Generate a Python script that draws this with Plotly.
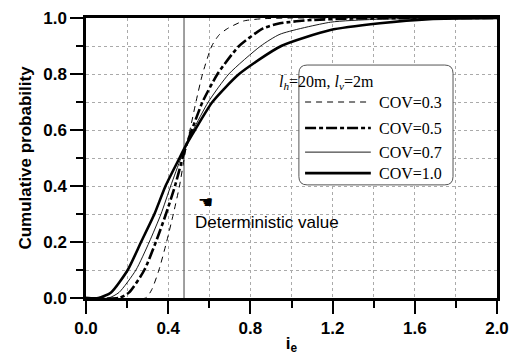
import plotly.graph_objects as go

# ---- data ----
cov03_x = [0.0, 0.29, 0.32, 0.355, 0.392, 0.425, 0.455, 0.478, 0.49, 0.506, 0.535, 0.567, 0.612, 0.648, 0.69, 0.765, 0.85, 1.0, 1.5, 2.0]
cov03_y = [0.0, 0.0, 0.03, 0.1, 0.2, 0.3, 0.4, 0.5, 0.55, 0.6, 0.7, 0.8, 0.9, 0.94, 0.963, 0.989, 0.997, 1.0, 1.0, 1.0]

cov05_x = [0.0, 0.16, 0.21, 0.284, 0.34, 0.389, 0.433, 0.47, 0.49, 0.515, 0.567, 0.64, 0.745, 0.862, 0.944, 1.1, 1.3, 1.6, 2.0]
cov05_y = [0.0, 0.0, 0.02, 0.1, 0.2, 0.3, 0.4, 0.5, 0.55, 0.6, 0.7, 0.8, 0.9, 0.963, 0.981, 0.993, 0.998, 1.0, 1.0]

cov07_x = [0.0, 0.11, 0.161, 0.243, 0.308, 0.365, 0.412, 0.462, 0.49, 0.522, 0.595, 0.695, 0.85, 0.944, 1.19, 1.4, 1.7, 2.0]
cov07_y = [0.0, 0.0, 0.02, 0.1, 0.2, 0.3, 0.4, 0.5, 0.55, 0.6, 0.7, 0.8, 0.9, 0.942, 0.985, 0.995, 0.999, 1.0]

cov10_x = [0.0, 0.06, 0.122, 0.203, 0.268, 0.333, 0.387, 0.455, 0.49, 0.53, 0.615, 0.745, 0.95, 1.19, 1.43, 1.67, 2.0]
cov10_y = [0.0, 0.0, 0.02, 0.1, 0.2, 0.3, 0.4, 0.5, 0.55, 0.6, 0.7, 0.8, 0.9, 0.957, 0.981, 0.996, 1.0]

deterministic_ie = 0.477
series_names = ["COV=0.3", "COV=0.5", "COV=0.7", "COV=1.0"]
x_ticks = [0.0, 0.4, 0.8, 1.2, 1.6, 2.0]
y_ticks = [0.0, 0.2, 0.4, 0.6, 0.8, 1.0]

# ---- styles ----
styles = [
    dict(color="black", width=1.0, dash="6px,5px"),
    dict(color="black", width=2.6, dash="11px,3px,4px,3px"),
    dict(color="black", width=0.9, dash="solid"),
    dict(color="black", width=2.6, dash="solid"),
]

fig = go.Figure()

# deterministic value line
fig.add_trace(go.Scatter(x=[deterministic_ie, deterministic_ie], y=[0.0, 1.0], mode="lines",
                         line=dict(color="#777777", width=1.4), showlegend=False, hoverinfo="skip"))

for xs, ys, nm, st in zip([cov03_x, cov05_x, cov07_x, cov10_x],
                          [cov03_y, cov05_y, cov07_y, cov10_y], series_names, styles):
    fig.add_trace(go.Scatter(x=xs, y=ys, mode="lines", name=nm, line=dict(shape="spline", smoothing=0.6, **st),
                             showlegend=False))

axis_font = dict(family="Liberation Sans, Arial", size=17, color="black")

fig.update_xaxes(range=[0, 2.0], tickvals=x_ticks, ticktext=[f"<b>{v:.1f}</b>" for v in x_ticks],
                 ticks="outside", ticklen=13, tickwidth=2, tickcolor="black",
                 showline=True, linewidth=2.5, linecolor="black", mirror=True,
                 showgrid=True, gridcolor="#aaaaaa", griddash="dot", gridwidth=1,
                 minor=dict(dtick=0.2, tick0=0, ticks="outside", ticklen=7, tickwidth=2, tickcolor="black",
                            showgrid=True, gridcolor="#aaaaaa", griddash="dot", gridwidth=1),
                 zeroline=False, tickfont=axis_font, automargin=False,
                 title=dict(text="<b>i<sub>e</sub></b>", font=dict(family="Liberation Sans, Arial", size=17, color="black"),
                            standoff=0))
fig.update_yaxes(range=[0, 1.0], tickvals=y_ticks, ticktext=[f"<b>{v:.1f}</b>" for v in y_ticks],
                 ticks="outside", ticklen=13, tickwidth=2, tickcolor="black",
                 showline=True, linewidth=2.5, linecolor="black", mirror=True,
                 showgrid=True, gridcolor="#aaaaaa", griddash="dot", gridwidth=1,
                 minor=dict(dtick=0.1, tick0=0, ticks="outside", ticklen=7, tickwidth=2, tickcolor="black",
                            showgrid=True, gridcolor="#aaaaaa", griddash="dot", gridwidth=1),
                 zeroline=False, tickfont=axis_font, automargin=False,
                 title=dict(text="<b>Cumulative probability</b>", font=dict(family="Liberation Sans, Arial", size=17, color="black"),
                            standoff=8))

# ---- manual legend (rounded box) ----
x0, x1, y0, y1, r = 0.518, 0.893, 0.404, 0.832, 0.02
ry = r * 411 / 280
path = (f"M {x0+r},{y1} L {x1-r},{y1} Q {x1},{y1} {x1},{y1-ry} L {x1},{y0+ry} Q {x1},{y0} {x1-r},{y0} "
        f"L {x0+r},{y0} Q {x0},{y0} {x0},{y0+ry} L {x0},{y1-ry} Q {x0},{y1} {x0+r},{y1} Z")
shapes = [dict(type="path", path=path, xref="paper", yref="paper", line=dict(color="#555555", width=1),
               fillcolor="white", layer="above")]
row_y = [0.700, 0.607, 0.521, 0.446]
annotations = [dict(x=0.706, y=0.771, xref="paper", yref="paper", showarrow=False, yanchor="middle",
                    text="<i>l</i><sub><i>h</i></sub>=20m, <i>l</i><sub><i>v</i></sub>=2m",
                    font=dict(family="Liberation Serif, Times New Roman", size=16, color="black"))]
for ry_, nm, st in zip(row_y, series_names, styles):
    shapes.append(dict(type="line", xref="paper", yref="paper", x0=0.533, x1=0.693, y0=ry_, y1=ry_,
                       line=dict(color="black", width=st["width"], dash=st["dash"]), layer="above"))
    annotations.append(dict(x=0.708, y=ry_, xref="paper", yref="paper", xanchor="left", yanchor="middle",
                            showarrow=False, text=nm,
                            font=dict(family="Liberation Serif, Times New Roman", size=16, color="black")))

annotations.append(dict(x=0.268, y=0.343, xref="paper", yref="paper", showarrow=False, xanchor="left",
                        yanchor="middle", text="☚", font=dict(family="DejaVu Sans", size=17, color="black")))
annotations.append(dict(x=0.26, y=0.271, xref="paper", yref="paper", showarrow=False, xanchor="left",
                        yanchor="middle", text="Deterministic value",
                        font=dict(family="Liberation Sans, Arial", size=17, color="black")))

fig.update_layout(width=516, height=358, margin=dict(l=86, r=19, t=18, b=60),
                  plot_bgcolor="white", paper_bgcolor="white",
                  shapes=shapes, annotations=annotations, showlegend=False)

fig.write_html("out.html")
